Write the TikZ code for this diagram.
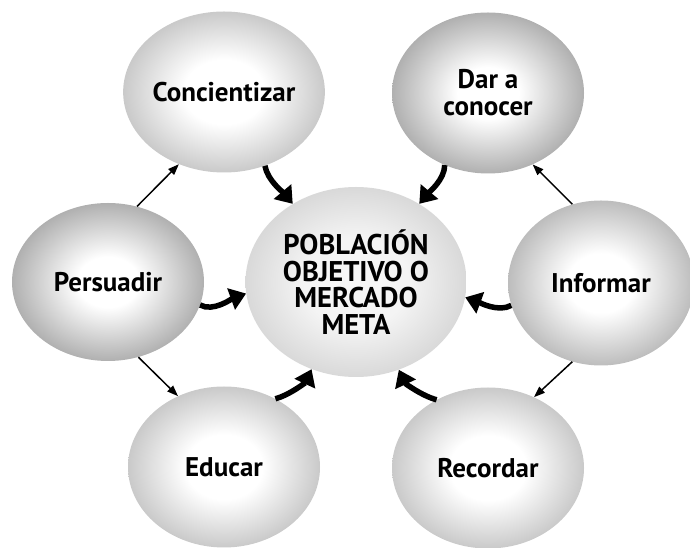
\documentclass[tikz,border=0pt]{standalone}
\usepackage{fontspec}
\setmainfont{PT Sans}
\usetikzlibrary{%
  arrows.meta,
  positioning,
  shapes.geometric
}

\pgfdeclareradialshading{balllight}{\pgfpoint{0bp}{0bp}}{%
  color(0bp)=(white); color(10bp)=(white);
  color(25bp)=(gray!42); color(50bp)=(gray!42)}
\pgfdeclareradialshading{balldark}{\pgfpoint{0bp}{0bp}}{%
  color(0bp)=(white); color(8bp)=(white);
  color(25bp)=(gray!62); color(50bp)=(gray!62)}
\pgfdeclareradialshading{ballmid}{\pgfpoint{0bp}{0bp}}{%
  color(0bp)=(white); color(9bp)=(white);
  color(25bp)=(gray!52); color(50bp)=(gray!52)}
\pgfdeclareradialshading{ballcenter}{\pgfpoint{0bp}{0bp}}{%
  color(0bp)=(gray!6); color(12bp)=(gray!9);
  color(25bp)=(gray!30); color(50bp)=(gray!30)}

\tikzset{
  ballnode/.style={ellipse, shade, inner sep=0pt,
    minimum width=192pt, minimum height=161pt,
    font=\bfseries\fontsize{27}{27}\selectfont, text=black, align=center},
  lightball/.style={ballnode, shading=balllight},
  darkball/.style={ballnode, shading=balldark},
  midball/.style={ballnode, shading=ballmid},
  goalball/.style={ballnode, shading=ballcenter,
    font=\bfseries\fontsize{28.5}{26.5}\selectfont,
    minimum width=221pt, minimum height=190pt},
  thinarrow/.style={line width=1.5pt, -{Triangle[length=11pt,width=8pt]}},
  bigarrow/.style={line width=5.5pt, -{Triangle[length=16pt,width=22pt]}}
}

\begin{document}
\begin{tikzpicture}[x=1pt,y=1pt]
  \useasboundingbox (0,0) rectangle (690,548);

  % six outer balls and the goal
  \node[goalball]  (pob)  at (356,266) {POBLACIÓN\\OBJETIVO O\\MERCADO\\META};
  \node[lightball] (conc) at (224,456) {Concientizar};
  \node[darkball]  (dar)  at (488,455) {Dar a\\conocer};
  \node[darkball, minimum height=158pt] (pers) at (108,266) {Persuadir};
  \node[midball, minimum width=186pt, minimum height=165pt] (inf) at (601,265) {Informar};
  \node[lightball] (edu)  at (224,81) {Educar};
  \node[lightball] (rec)  at (488,80) {Recordar};

  \foreach \a/\b in {pers.69/conc.238, pers.292/edu.123,
                     inf.110/dar.302, inf.250/rec.57}
    \draw[thinarrow] (\a) -- (\b);

  \foreach \a/\b/\o/\i in {conc.299/pob.129/-80/130, dar.239/pob.51/-90/50,
                           pers.346/pob.186/-30/200, inf.194/pob.352/210/-20,
                           edu.53/pob.243/15/-115, rec.127/pob.296/165/-65}
    \draw[bigarrow, looseness=0.8] (\a) to[out=\o,in=\i] (\b);

\end{tikzpicture}
\end{document}
